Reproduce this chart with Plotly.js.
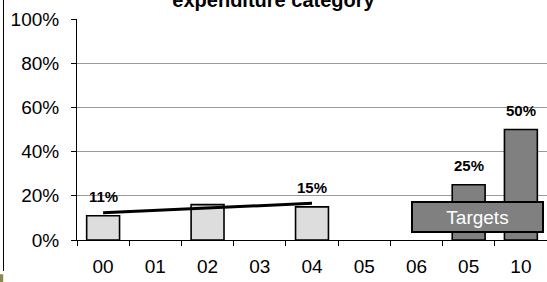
<!DOCTYPE html>
<html>
<head>
<meta charset="utf-8">
<script src="https://cdn.plot.ly/plotly-3.0.1.min.js"></script>
<style>html,body{margin:0;padding:0;background:#fff;}#chart{width:547px;height:282px;}</style>
</head>
<body>
<div id="chart"></div>
<script>
// ---- data ----
var categories = ["00", "01", "02", "03", "04", "05", "06", "05", "10"];
var actualIdx = [0, 2, 4];
var actualValues = [11, 16, 15];
var actualLabels = ["11%", "", "15%"];
var targetIdx = [7, 8];
var targetValues = [25, 50];
var targetLabels = ["25%", "50%"];
var trendIdx = [0, 4];
var trendValues = [12.3, 16.6];
var yTicks = [0, 20, 40, 60, 80, 100];
var yTickLabels = ["0%", "20%", "40%", "60%", "80%", "100%"];
var titleText = "expenditure category";
var boxText = "Targets";

var catPos = categories.map(function (c, i) { return i; });
var boundaries = [];
for (var i = 0; i <= categories.length; i++) boundaries.push(i - 0.5);

var FONT = "Liberation Sans, Arial, sans-serif";

var traces = [
  {
    type: "bar", x: actualIdx, y: actualValues, width: 0.63,
    marker: { color: "#dddddd", line: { color: "#000", width: 1.6 } },
    hoverinfo: "skip", showlegend: false
  },
  {
    type: "bar", x: targetIdx, y: targetValues, width: 0.63,
    marker: { color: "#808080", line: { color: "#000", width: 1.6 } },
    hoverinfo: "skip", showlegend: false
  },
  {
    type: "scatter", mode: "lines", x: trendIdx, y: trendValues,
    line: { color: "#000", width: 3 }, hoverinfo: "skip", showlegend: false
  },
  {
    type: "scatter", mode: "markers", x: [0], y: [0], xaxis: "x2",
    marker: { opacity: 0 }, hoverinfo: "skip", showlegend: false
  }
];

var annotations = [];
actualIdx.forEach(function (x, k) {
  if (actualLabels[k]) annotations.push({
    x: x, y: actualValues[k], xref: "x", yref: "y", text: "<b>" + actualLabels[k] + "</b>",
    showarrow: false, yanchor: "bottom", yshift: 9, font: { family: FONT, size: 15, color: "#000" }
  });
});
targetIdx.forEach(function (x, k) {
  annotations.push({
    x: x, y: targetValues[k], xref: "x", yref: "y", text: "<b>" + targetLabels[k] + "</b>",
    showarrow: false, yanchor: "bottom", yshift: 9, font: { family: FONT, size: 15, color: "#000" }
  });
});
annotations.push({
  x: 7.17, y: 10.45, xref: "x", yref: "y", text: boxText, showarrow: false,
  width: 127, height: 26, bgcolor: "#808080", bordercolor: "#000", borderwidth: 2,
  font: { family: FONT, size: 19, color: "#fff" }
});

var layout = {
  width: 547, height: 282,
  margin: { l: 77, r: 0, t: 19, b: 42, pad: 0 },
  paper_bgcolor: "#fff", plot_bgcolor: "#fff",
  font: { family: FONT, color: "#000" },
  title: { text: "<b>" + titleText + "</b>", x: 0.5, xref: "container", xanchor: "center",
           y: 1, yref: "container", yanchor: "middle", font: { family: FONT, size: 20, color: "#000" } },
  showlegend: false,
  bargap: 0,
  xaxis: {
    range: [-0.5, 8.5], tickvals: catPos, ticktext: categories, ticks: "",
    showgrid: false, zeroline: false, showline: true, linecolor: "#000", linewidth: 1,
    tickfont: { family: FONT, size: 19, color: "#000" }, ticklabelstandoff: 9, fixedrange: true
  },
  xaxis2: {
    overlaying: "x", anchor: "y", side: "bottom", range: [-0.5, 8.5],
    tickvals: boundaries, showticklabels: false, ticks: "outside", ticklen: 5,
    tickcolor: "#000", tickwidth: 1, showgrid: false, zeroline: false, showline: false
  },
  yaxis: {
    range: [0, 100], tickvals: yTicks, ticktext: yTickLabels, ticks: "outside", ticklen: 5,
    tickcolor: "#000", showline: true, linecolor: "#000", linewidth: 1,
    showgrid: true, gridcolor: "#999", gridwidth: 1, zeroline: false,
    tickfont: { family: FONT, size: 19, color: "#000" }, ticklabelstandoff: 8
  },
  annotations: annotations,
  shapes: [
    { type: "line", xref: "paper", yref: "paper", x0: -0.1564, x1: -0.1564, y0: 1.09, y1: -0.14,
      line: { color: "#000", width: 1 } },
    { type: "rect", xref: "paper", yref: "paper", x0: -0.165, x1: -0.157, y0: -0.155, y1: -0.2,
      fillcolor: "#8a8a50", line: { width: 0 } }
  ]
};

Plotly.newPlot("chart", traces, layout, { staticPlot: true, displayModeBar: false });
</script>
</body>
</html>
